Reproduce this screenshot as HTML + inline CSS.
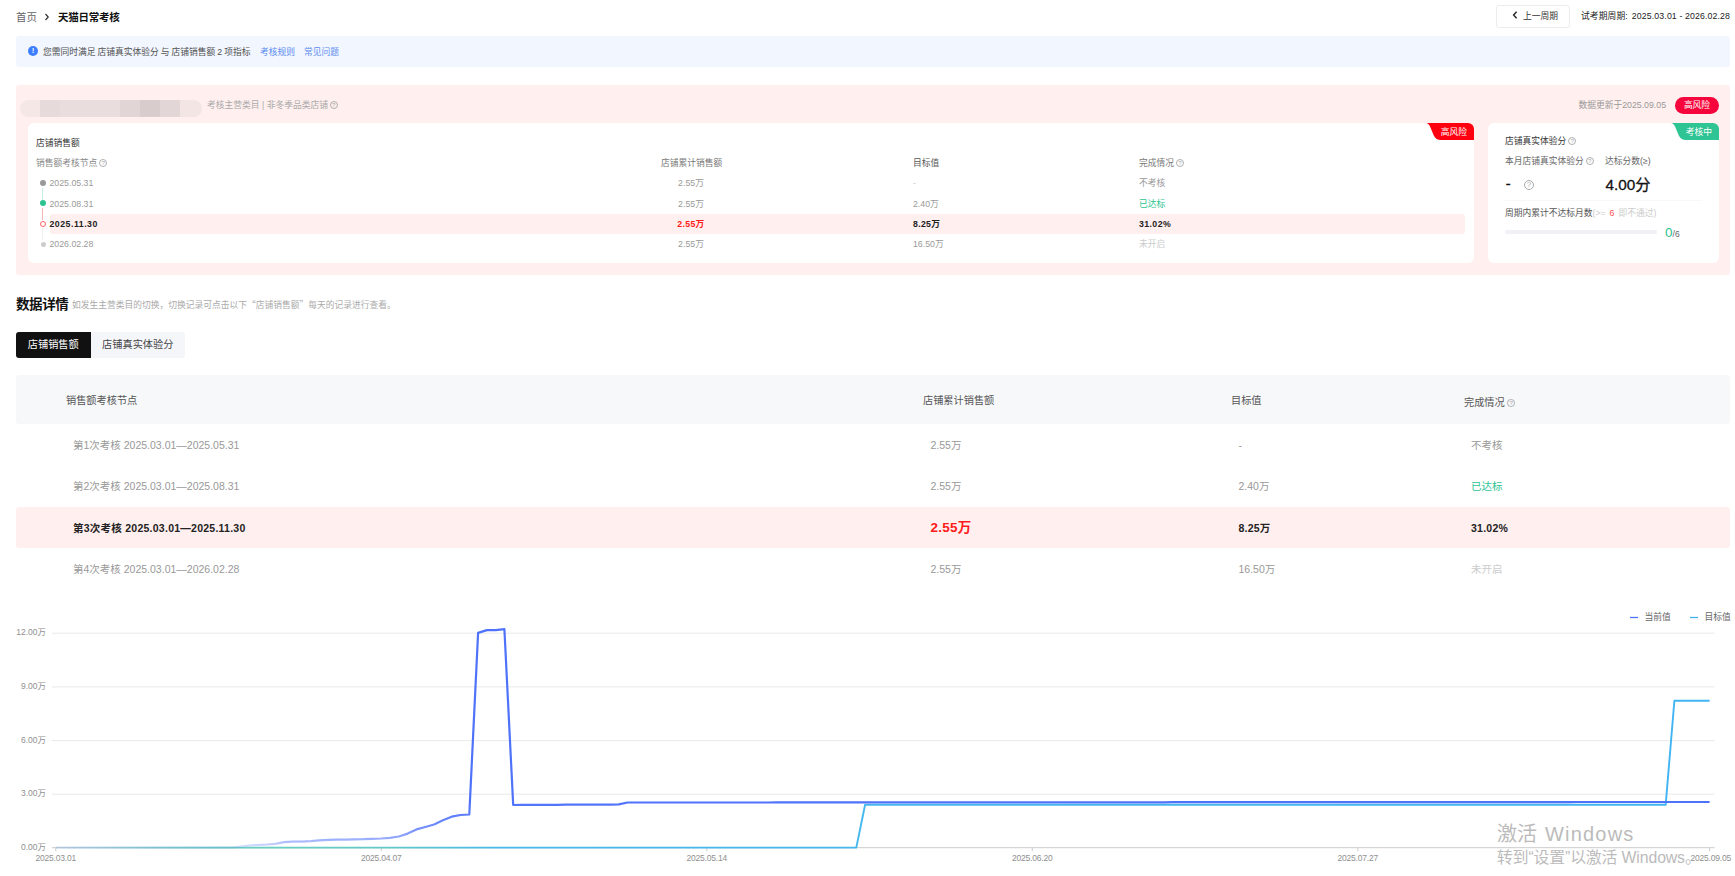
<!DOCTYPE html>
<html lang="zh-CN">
<head>
<meta charset="utf-8">
<title>天猫日常考核</title>
<style>
*{box-sizing:border-box;margin:0;padding:0}
html,body{width:1735px;height:876px;overflow:hidden;background:#fff}
body{position:relative;font-family:"Liberation Sans","Noto Sans CJK SC",sans-serif;color:#333;font-size:8.75px;line-height:1}
.a{position:absolute;white-space:nowrap}
.b{font-weight:bold}
.g6{color:#666}.g9{color:#999}.gc{color:#ccc}
.f9{font-size:8.75px}.f10{font-size:10.5px}
.q{display:inline-block;width:8px;height:8px;border:0.7px solid #b0b0b0;border-radius:50%;font-size:6.2px;line-height:6.6px;text-align:center;color:#aaa;vertical-align:middle;position:relative;top:-1.2px;margin-left:-0.5px;font-family:"Liberation Sans",sans-serif;overflow:hidden}
</style>
</head>
<body>
<!-- breadcrumb -->
<div class="a f10 g6" style="left:16px;top:11px;line-height:12px">首页</div>
<svg class="a" style="left:44px;top:13px" width="6" height="8" viewBox="0 0 6 8"><path d="M1.5 1 L4.2 4 L1.5 7" fill="none" stroke="#333" stroke-width="1.2"/></svg>
<div class="a f10 b" style="left:58px;top:11px;line-height:12px;color:#111;letter-spacing:-0.25px">天猫日常考核</div>
<!-- top right -->
<div class="a" style="left:1496px;top:5px;width:73.5px;height:22.5px;border:1px solid #ececec;border-radius:3px;background:#fff"></div>
<svg class="a" style="left:1512px;top:11.3px" width="6" height="8" viewBox="0 0 6 8"><path d="M4.6 0.8 L1.6 4 L4.6 7.2" fill="none" stroke="#222" stroke-width="1.4"/></svg>
<div class="a f9" style="left:1523px;top:10.5px;line-height:11px;color:#333">上一周期</div>
<div class="a f9" style="right:5px;top:11px;line-height:11px;color:#222;letter-spacing:0.12px">试考期周期:<span style="margin-left:1.5px"> 2025.03.01 - 2026.02.28</span></div>
<!-- info banner -->
<div class="a" style="left:16px;top:36px;width:1714px;height:31px;background:#f2f6ff;border-radius:3px"></div>
<div class="a" style="left:28px;top:46px;width:10px;height:10px;border-radius:50%;background:#3d7dff;color:#e8f0ff;font-size:8px;font-weight:bold;line-height:10px;text-align:center">!</div>
<div class="a f9" style="left:43px;top:47px;line-height:11px;color:#505050;word-spacing:-0.4px">您需同时满足 店铺真实体验分 与 店铺销售额 2 项指标</div>
<div class="a f9" style="left:260px;top:47px;line-height:11px;color:#5b8def">考核规则</div>
<div class="a f9" style="left:304px;top:47px;line-height:11px;color:#5b8def">常见问题</div>

<!-- PINK PANEL -->
<div class="a" style="left:16px;top:85px;width:1714px;height:190px;background:#ffefee;border-radius:3px"></div>
<!-- blurred name -->
<div class="a" style="left:19.5px;top:99.5px;width:182px;height:17.5px;border-radius:9px;background:linear-gradient(90deg,#f5e7e6 0,#f5e7e6 11%,#e6dada 11%,#e6dada 22%,#e9dddd 22%,#e9dddd 55%,#e2d5d5 55%,#e2d5d5 66%,#d9cccc 66%,#d9cccc 77%,#e3d6d6 77%,#e3d6d6 88%,#f3e5e4 88%);filter:blur(0.7px)"></div>
<div class="a f9" style="left:207px;top:100px;line-height:11px;color:#aaa">考核主营类目 | 非冬季品类店铺 <span class="q">?</span></div>
<div class="a f9" style="right:69px;top:100px;line-height:11px;color:#999">数据更新于2025.09.05</div>
<div class="a f9" style="left:1675px;top:96.5px;width:44px;height:17.5px;border-radius:9px;background:#f5053b;color:#fff;line-height:17.5px;text-align:center">高风险</div>
<!-- left card -->
<div class="a" style="left:28px;top:123px;width:1446px;height:140px;background:#fff;border-radius:6px;overflow:hidden">
  <svg class="a" style="right:0;top:0" width="48" height="17" viewBox="0 0 48 17"><path d="M0 0 H48 V17 H15 Q10 17 7.8 12.5 L4 3.6 Q2.4 0 0 0 Z" fill="#ff0010"/></svg>
  <div class="a f9" style="right:7px;top:4.3px;line-height:11px;color:#fff">高风险</div>
</div>
<div class="a f9" style="left:36px;top:138px;line-height:11px;color:#333">店铺销售额</div>
<div class="a f9" style="left:36px;top:158px;line-height:11px;color:#888">销售额考核节点 <span class="q">?</span></div>
<div class="a f9" style="left:661px;top:158px;line-height:11px;color:#777">店铺累计销售额</div>
<div class="a f9" style="left:913px;top:158px;line-height:11px;color:#555">目标值</div>
<div class="a f9" style="left:1139px;top:158px;line-height:11px;color:#777">完成情况 <span class="q">?</span></div>
<!-- highlight row -->
<div class="a" style="left:50px;top:214px;width:1415px;height:20px;background:#ffefee;border-radius:3px"></div>
<!-- timeline -->
<div class="a" style="left:42px;top:188px;width:1px;height:12px;background:#c8efe1"></div>
<div class="a" style="left:42px;top:208px;width:1px;height:12px;background:#f9b4b4"></div>
<div class="a" style="left:42px;top:228px;width:1px;height:12px;background:#f0f0f0"></div>
<div class="a" style="left:40px;top:180px;width:6px;height:6px;border-radius:50%;background:#999"></div>
<div class="a" style="left:40px;top:200px;width:6px;height:6px;border-radius:50%;background:#2cc391"></div>
<div class="a" style="left:39.6px;top:220.6px;width:6.6px;height:6.6px;border-radius:50%;border:1.5px solid #ff6161;background:#fff"></div>
<div class="a" style="left:40.5px;top:242px;width:5px;height:5px;border-radius:50%;background:#ccc"></div>
<!-- rows -->
<div class="a f9 g9" style="left:49.5px;top:178px;line-height:11px">2025.05.31</div>
<div class="a f9 g9" style="left:49.5px;top:198.5px;line-height:11px">2025.08.31</div>
<div class="a f9 b" style="left:49.5px;top:218.5px;line-height:11px;color:#222;letter-spacing:0.5px">2025.11.30</div>
<div class="a f9 g9" style="left:49.5px;top:239px;line-height:11px">2026.02.28</div>
<div class="a f9 g9" style="left:651px;width:80px;text-align:center;top:178px;line-height:11px">2.55万</div>
<div class="a f9 g9" style="left:651px;width:80px;text-align:center;top:198.5px;line-height:11px">2.55万</div>
<div class="a f9 b" style="left:651px;width:80px;text-align:center;top:218.5px;line-height:11px;color:#ff1a1a;letter-spacing:0.3px">2.55万</div>
<div class="a f9 g9" style="left:651px;width:80px;text-align:center;top:239px;line-height:11px">2.55万</div>
<div class="a f9 gc" style="left:913px;top:178px;line-height:11px">-</div>
<div class="a f9 g9" style="left:913px;top:198.5px;line-height:11px">2.40万</div>
<div class="a f9 b" style="left:913px;top:218.5px;line-height:11px;color:#222;letter-spacing:0.3px">8.25万</div>
<div class="a f9 g9" style="left:913px;top:239px;line-height:11px">16.50万</div>
<div class="a f9 g9" style="left:1139px;top:178px;line-height:11px">不考核</div>
<div class="a f9" style="left:1139px;top:198.5px;line-height:11px;color:#2cc391">已达标</div>
<div class="a f9 b" style="left:1139px;top:218.5px;line-height:11px;color:#222;letter-spacing:0.4px">31.02%</div>
<div class="a f9 gc" style="left:1139px;top:239px;line-height:11px">未开启</div>
<!-- right card -->
<div class="a" style="left:1487.5px;top:123px;width:231.5px;height:140px;background:#fff;border-radius:6px;overflow:hidden">
  <svg class="a" style="right:0;top:0" width="48" height="17" viewBox="0 0 48 17"><path d="M0 0 H48 V17 H15 Q10 17 7.8 12.5 L4 3.6 Q2.4 0 0 0 Z" fill="#2fc493"/></svg>
  <div class="a f9" style="right:7px;top:4.3px;line-height:11px;color:#fff">考核中</div>
</div>
<div class="a f9" style="left:1505px;top:136.3px;line-height:11px;color:#333">店铺真实体验分 <span class="q">?</span></div>
<div class="a f9" style="left:1505px;top:156px;line-height:11px;color:#666">本月店铺真实体验分 <span class="q">?</span></div>
<div class="a f9" style="left:1605px;top:156px;line-height:11px;color:#666">达标分数(≥)</div>
<div class="a" style="left:1505.5px;top:174.5px;font-size:16px;line-height:18px;color:#111;-webkit-text-stroke:0.15px #111">-</div>
<div class="a" style="left:1524px;top:180px;width:10px;height:10px;border:0.8px solid #aaa;border-radius:50%;font-size:8px;line-height:8.4px;text-align:center;color:#aaa">?</div>
<div class="a" style="left:1605.5px;top:174.7px;font-size:15.3px;line-height:20px;color:#111;-webkit-text-stroke:0.3px #111">4.00分</div>
<div class="a" style="left:1505px;top:199.5px;width:197px;height:1px;background:#f8f8f8"></div>
<div class="a f9" style="left:1505px;top:207.5px;line-height:11px;color:#555">周期内累计不达标月数<span style="color:#ccc">(&gt;= <span style="color:#ff4d4f;margin:0 1.5px"> 6 </span> 即不通过)</span></div>
<div class="a" style="left:1505px;top:230px;width:152px;height:4px;border-radius:2px;background:#f0f1f5"></div>
<div class="a" style="left:1665px;top:225px;font-size:13.5px;line-height:16px;color:#2cc391">0<span style="font-size:8.5px;color:#666">/6</span></div>
<!-- DETAIL -->
<div class="a b" style="left:16px;top:296.6px;font-size:13.5px;line-height:16px;color:#111;letter-spacing:-0.4px">数据详情</div>
<div class="a" style="left:72px;top:299.8px;font-size:8.75px;line-height:10px;color:#aaa;font-family:'Noto Sans CJK SC',sans-serif">如发生主营类目的切换，切换记录可点击以下“店铺销售额”每天的记录进行查看。</div>
<div class="a" style="left:16px;top:332px;width:169px;height:26px;background:#f5f6fa;border-radius:3px"></div>
<div class="a f10" style="left:16px;top:332px;width:74.5px;height:26px;background:#111;border-radius:3px 0 0 3px;color:#fff;text-align:center;line-height:26px;font-size:10.2px">店铺销售额</div>
<div class="a f10" style="left:90.5px;top:332px;width:94.5px;height:26px;color:#444;text-align:center;line-height:26px;font-size:10.2px">店铺真实体验分</div>
<div class="a" style="left:16px;top:375px;width:1714px;height:48.5px;background:#f7f8fa;border-radius:3px"></div>
<div class="a" style="left:16px;top:507px;width:1714px;height:41px;background:#ffefee;border-radius:3px"></div>
<div class="a f10" style="left:66px;top:394px;line-height:13px;color:#555;font-size:10.2px">销售额考核节点</div>
<div class="a f10" style="left:923px;top:394px;line-height:13px;color:#555;font-size:10.2px">店铺累计销售额</div>
<div class="a f10" style="left:1231px;top:394px;line-height:13px;color:#555;font-size:10.2px">目标值</div>
<div class="a f10" style="left:1464px;top:396.2px;line-height:13px;color:#555;font-size:10.2px">完成情况 <span class="q" style="width:7.6px;height:7.6px;font-size:6px;line-height:6.2px;top:-0.6px;margin-left:-0.2px">?</span></div>
<div class="a f10 g9" style="left:73px;top:438.5px;line-height:13px">第1次考核 2025.03.01—2025.05.31</div>
<div class="a f10 g9" style="left:73px;top:479.7px;line-height:13px">第2次考核 2025.03.01—2025.08.31</div>
<div class="a f10 b" style="left:73px;top:522px;line-height:13px;color:#222;letter-spacing:0.25px">第3次考核 2025.03.01—2025.11.30</div>
<div class="a f10 g9" style="left:73px;top:563px;line-height:13px">第4次考核 2025.03.01—2026.02.28</div>
<div class="a f10 g9" style="left:930.5px;top:438.5px;line-height:13px">2.55万</div>
<div class="a f10 g9" style="left:930.5px;top:479.7px;line-height:13px">2.55万</div>
<div class="a b" style="left:930.5px;top:519.5px;font-size:13.5px;line-height:16px;color:#ff1a1a;letter-spacing:0.25px">2.55万</div>
<div class="a f10 g9" style="left:930.5px;top:563px;line-height:13px">2.55万</div>
<div class="a f10 g9" style="left:1238.5px;top:438.5px;line-height:13px">-</div>
<div class="a f10 g9" style="left:1238.5px;top:479.7px;line-height:13px">2.40万</div>
<div class="a f10 b" style="left:1238.5px;top:522px;line-height:13px;color:#222;letter-spacing:0.2px">8.25万</div>
<div class="a f10 g9" style="left:1238.5px;top:563px;line-height:13px">16.50万</div>
<div class="a f10 g9" style="left:1471px;top:438.5px;line-height:13px">不考核</div>
<div class="a f10" style="left:1471px;top:479.7px;line-height:13px;color:#2cc391">已达标</div>
<div class="a f10 b" style="left:1471px;top:522px;line-height:13px;color:#222;letter-spacing:0.25px">31.02%</div>
<div class="a f10 gc" style="left:1471px;top:563px;line-height:13px">未开启</div>
<!-- CHART -->
<svg class="a" style="left:0;top:600px" width="1735" height="276" viewBox="0 600 1735 276">
<defs><linearGradient id="gc" gradientUnits="userSpaceOnUse" x1="0" y1="847" x2="0" y2="633"><stop offset="0" stop-color="#4f72fa" stop-opacity="0.15"/><stop offset="0.0125" stop-color="#4f72fa" stop-opacity="0.34"/><stop offset="0.03" stop-color="#4f72fa" stop-opacity="0.52"/><stop offset="0.045" stop-color="#4f72fa" stop-opacity="0.62"/><stop offset="0.085" stop-color="#4f72fa" stop-opacity="0.78"/><stop offset="0.15" stop-color="#4f72fa" stop-opacity="0.92"/><stop offset="0.21" stop-color="#4f72fa" stop-opacity="1"/><stop offset="1" stop-color="#4f72fa"/></linearGradient>
<linearGradient id="gt" gradientUnits="userSpaceOnUse" x1="52" y1="0" x2="1714" y2="0"><stop offset="0" stop-color="#6ccfc0" stop-opacity="0.12"/><stop offset="0.06" stop-color="#6ccfc0" stop-opacity="0.75"/><stop offset="0.1" stop-color="#6ccfc0" stop-opacity="1"/><stop offset="0.2" stop-color="#64c9c8"/><stop offset="0.27" stop-color="#47b9ea"/><stop offset="1" stop-color="#41b4f3"/></linearGradient></defs>
<line x1="52" x2="1714.6" y1="794.2" y2="794.2" stroke="#e9e9e9" stroke-width="1"/>
<line x1="52" x2="1714.6" y1="740.6" y2="740.6" stroke="#e9e9e9" stroke-width="1"/>
<line x1="52" x2="1714.6" y1="686.9" y2="686.9" stroke="#e9e9e9" stroke-width="1"/>
<line x1="52" x2="1714.6" y1="633.2" y2="633.2" stroke="#e9e9e9" stroke-width="1"/>
<line x1="52" x2="1714.6" y1="847.7" y2="847.7" stroke="#ccc" stroke-width="1"/>
<line x1="55.8" x2="55.8" y1="847.7" y2="851.2" stroke="#ccc" stroke-width="1"/>
<line x1="381.3" x2="381.3" y1="847.7" y2="851.2" stroke="#ccc" stroke-width="1"/>
<line x1="706.8" x2="706.8" y1="847.7" y2="851.2" stroke="#ccc" stroke-width="1"/>
<line x1="1032.3" x2="1032.3" y1="847.7" y2="851.2" stroke="#ccc" stroke-width="1"/>
<line x1="1357.8" x2="1357.8" y1="847.7" y2="851.2" stroke="#ccc" stroke-width="1"/>
<line x1="1709.6" x2="1709.6" y1="847.7" y2="851.2" stroke="#ccc" stroke-width="1"/>
<path d="M55.8 847.6 L64.6 847.6 L73.4 847.6 L82.2 847.6 L91.0 847.6 L99.8 847.6 L108.6 847.6 L117.4 847.6 L126.2 847.6 L135.0 847.6 L143.8 847.6 L152.6 847.6 L161.4 847.6 L170.2 847.6 L179.0 847.6 L187.8 847.6 L196.6 847.6 L205.3 847.6 L214.1 847.6 L222.9 847.6 L231.7 847.6 L240.5 847.6 L249.3 847.6 L258.1 847.6 L266.9 847.6 L275.7 847.6 L284.5 847.6 L293.3 847.6 L302.1 847.6 L310.9 847.6 L319.7 847.6 L328.5 847.6 L337.3 847.6 L346.1 847.6 L354.9 847.6 L363.7 847.6 L372.5 847.6 L381.3 847.6 L390.1 847.6 L398.9 847.6 L407.7 847.6 L416.5 847.6 L425.3 847.6 L434.1 847.6 L442.9 847.6 L451.7 847.6 L460.5 847.6 L469.3 847.6 L478.1 847.6 L486.9 847.6 L495.7 847.6 L504.4 847.6 L513.2 847.6 L522.0 847.6 L530.8 847.6 L539.6 847.6 L548.4 847.6 L557.2 847.6 L566.0 847.6 L574.8 847.6 L583.6 847.6 L592.4 847.6 L601.2 847.6 L610.0 847.6 L618.8 847.6 L627.6 847.6 L636.4 847.6 L645.2 847.6 L654.0 847.6 L662.8 847.6 L671.6 847.6 L680.4 847.6 L689.2 847.6 L698.0 847.6 L706.8 847.6 L715.6 847.6 L724.4 847.6 L733.2 847.6 L742.0 847.6 L750.8 847.6 L759.6 847.6 L768.4 847.6 L777.2 847.6 L786.0 847.6 L794.7 847.6 L803.5 847.6 L812.3 847.6 L821.1 847.6 L829.9 847.6 L838.7 847.6 L847.5 847.6 L856.3 847.6 L865.1 804.7 L873.9 804.7 L882.7 804.7 L891.5 804.7 L900.3 804.7 L909.1 804.7 L917.9 804.7 L926.7 804.7 L935.5 804.7 L944.3 804.7 L953.1 804.7 L961.9 804.7 L970.7 804.7 L979.5 804.7 L988.3 804.7 L997.1 804.7 L1005.9 804.7 L1014.7 804.7 L1023.5 804.7 L1032.3 804.7 L1041.1 804.7 L1049.9 804.7 L1058.7 804.7 L1067.5 804.7 L1076.3 804.7 L1085.0 804.7 L1093.8 804.7 L1102.6 804.7 L1111.4 804.7 L1120.2 804.7 L1129.0 804.7 L1137.8 804.7 L1146.6 804.7 L1155.4 804.7 L1164.2 804.7 L1173.0 804.7 L1181.8 804.7 L1190.6 804.7 L1199.4 804.7 L1208.2 804.7 L1217.0 804.7 L1225.8 804.7 L1234.6 804.7 L1243.4 804.7 L1252.2 804.7 L1261.0 804.7 L1269.8 804.7 L1278.6 804.7 L1287.4 804.7 L1296.2 804.7 L1305.0 804.7 L1313.8 804.7 L1322.6 804.7 L1331.4 804.7 L1340.2 804.7 L1349.0 804.7 L1357.8 804.7 L1366.6 804.7 L1375.4 804.7 L1384.1 804.7 L1392.9 804.7 L1401.7 804.7 L1410.5 804.7 L1419.3 804.7 L1428.1 804.7 L1436.9 804.7 L1445.7 804.7 L1454.5 804.7 L1463.3 804.7 L1472.1 804.7 L1480.9 804.7 L1489.7 804.7 L1498.5 804.7 L1507.3 804.7 L1516.1 804.7 L1524.9 804.7 L1533.7 804.7 L1542.5 804.7 L1551.3 804.7 L1560.1 804.7 L1568.9 804.7 L1577.7 804.7 L1586.5 804.7 L1595.3 804.7 L1604.1 804.7 L1612.9 804.7 L1621.7 804.7 L1630.5 804.7 L1639.3 804.7 L1648.1 804.7 L1656.9 804.7 L1665.7 804.7 L1674.4 700.7 L1683.2 700.7 L1692.0 700.7 L1700.8 700.7 L1709.6 700.7" fill="none" stroke="url(#gt)" stroke-width="1.9" stroke-linejoin="round"/>
<path d="M55.8 847.6 L64.6 847.6 L73.4 847.6 L82.2 847.6 L91.0 847.6 L99.8 847.6 L108.6 847.6 L117.4 847.6 L126.2 847.6 L135.0 847.6 L143.8 847.6 L152.6 847.6 L161.4 847.6 L170.2 847.6 L179.0 847.6 L187.8 847.6 L196.6 847.6 L205.3 847.6 L214.1 847.6 L222.9 847.6 L231.7 847.6 L240.5 846.7 L249.3 845.6 L258.1 845.1 L266.9 844.6 L275.7 843.8 L284.5 842.1 L293.3 841.7 L302.1 841.6 L310.9 841.2 L319.7 840.4 L328.5 839.9 L337.3 839.7 L346.1 839.6 L354.9 839.4 L363.7 839.2 L372.5 838.8 L381.3 838.5 L390.1 837.8 L398.9 836.5 L407.7 833.6 L416.5 829.4 L425.3 827.0 L434.1 824.5 L442.9 820.2 L451.7 816.7 L460.5 815.0 L469.3 814.5 L478.1 632.9 L486.9 630.1 L495.7 630.1 L504.4 629.2 L513.2 805.0 L522.0 804.9 L530.8 804.9 L539.6 804.9 L548.4 804.9 L557.2 804.9 L566.0 804.7 L574.8 804.7 L583.6 804.7 L592.4 804.7 L601.2 804.7 L610.0 804.7 L618.8 804.3 L627.6 802.5 L636.4 802.5 L645.2 802.5 L654.0 802.5 L662.8 802.5 L671.6 802.5 L680.4 802.5 L689.2 802.5 L698.0 802.5 L706.8 802.5 L715.6 802.5 L724.4 802.5 L733.2 802.5 L742.0 802.5 L750.8 802.5 L759.6 802.5 L768.4 802.5 L777.2 802.4 L786.0 802.4 L794.7 802.4 L803.5 802.4 L812.3 802.4 L821.1 802.4 L829.9 802.4 L838.7 802.4 L847.5 802.4 L856.3 802.4 L865.1 802.4 L873.9 802.4 L882.7 802.4 L891.5 802.4 L900.3 802.4 L909.1 802.4 L917.9 802.4 L926.7 802.4 L935.5 802.4 L944.3 802.4 L953.1 802.4 L961.9 802.4 L970.7 802.4 L979.5 802.3 L988.3 802.3 L997.1 802.3 L1005.9 802.3 L1014.7 802.3 L1023.5 802.3 L1032.3 802.3 L1041.1 802.3 L1049.9 802.3 L1058.7 802.3 L1067.5 802.3 L1076.3 802.3 L1085.0 802.3 L1093.8 802.3 L1102.6 802.3 L1111.4 802.3 L1120.2 802.3 L1129.0 802.3 L1137.8 802.3 L1146.6 802.3 L1155.4 802.3 L1164.2 802.3 L1173.0 802.2 L1181.8 802.2 L1190.6 802.2 L1199.4 802.2 L1208.2 802.2 L1217.0 802.2 L1225.8 802.2 L1234.6 802.2 L1243.4 802.2 L1252.2 802.2 L1261.0 802.2 L1269.8 802.2 L1278.6 802.2 L1287.4 802.2 L1296.2 802.2 L1305.0 802.2 L1313.8 802.2 L1322.6 802.2 L1331.4 802.2 L1340.2 802.2 L1349.0 802.2 L1357.8 802.2 L1366.6 802.2 L1375.4 802.1 L1384.1 802.1 L1392.9 802.1 L1401.7 802.1 L1410.5 802.1 L1419.3 802.1 L1428.1 802.1 L1436.9 802.1 L1445.7 802.1 L1454.5 802.1 L1463.3 802.1 L1472.1 802.1 L1480.9 802.1 L1489.7 802.1 L1498.5 802.1 L1507.3 802.1 L1516.1 802.1 L1524.9 802.1 L1533.7 802.1 L1542.5 802.1 L1551.3 802.1 L1560.1 802.1 L1568.9 802.1 L1577.7 802.0 L1586.5 802.0 L1595.3 802.0 L1604.1 802.0 L1612.9 802.0 L1621.7 802.0 L1630.5 802.0 L1639.3 802.0 L1648.1 802.0 L1656.9 802.0 L1665.7 802.0 L1674.4 802.0 L1683.2 802.0 L1692.0 802.0 L1700.8 802.0 L1709.6 802.0" fill="none" stroke="url(#gc)" stroke-width="2.2" stroke-linejoin="round"/>
<g font-family="'Liberation Sans','Noto Sans CJK SC',sans-serif" font-size="8.5" fill="#909090">
<text x="46" y="850.0" text-anchor="end">0.00万</text>
<text x="46" y="796.3" text-anchor="end">3.00万</text>
<text x="46" y="742.7" text-anchor="end">6.00万</text>
<text x="46" y="689.0" text-anchor="end">9.00万</text>
<text x="46" y="635.3" text-anchor="end">12.00万</text>
<text x="55.8" y="861" text-anchor="middle" letter-spacing="-0.2">2025.03.01</text>
<text x="381.3" y="861" text-anchor="middle" letter-spacing="-0.2">2025.04.07</text>
<text x="706.8" y="861" text-anchor="middle" letter-spacing="-0.2">2025.05.14</text>
<text x="1032.3" y="861" text-anchor="middle" letter-spacing="-0.2">2025.06.20</text>
<text x="1357.8" y="861" text-anchor="middle" letter-spacing="-0.2">2025.07.27</text>
<text x="1731" y="861" text-anchor="end" letter-spacing="-0.2">2025.09.05</text>
</g>
<line x1="1630" x2="1638" y1="617.5" y2="617.5" stroke="#4f72fa" stroke-width="1.3"/>
<line x1="1690" x2="1698" y1="617.5" y2="617.5" stroke="#41b4f3" stroke-width="1.3"/>
<g font-family="'Liberation Sans','Noto Sans CJK SC',sans-serif" font-size="8.8" fill="#666"><text x="1644.5" y="620.3">当前值</text><text x="1704.5" y="620.3">目标值</text></g>
</svg>
<div class="a" style="left:1497px;top:822px;font-size:20px;line-height:24px;color:#bbb">激活<span style="letter-spacing:1.2px;margin-left:8px">Windows</span></div>
<div class="a" style="left:1497px;top:848px;font-size:15.8px;line-height:20px;color:#bbb;letter-spacing:-0.1px">转到<span style="font-family:'Liberation Sans',sans-serif">“</span>设置<span style="font-family:'Liberation Sans',sans-serif">”</span>以激活 Windows。</div>
<!-- /CHART -->
</body>
</html>
